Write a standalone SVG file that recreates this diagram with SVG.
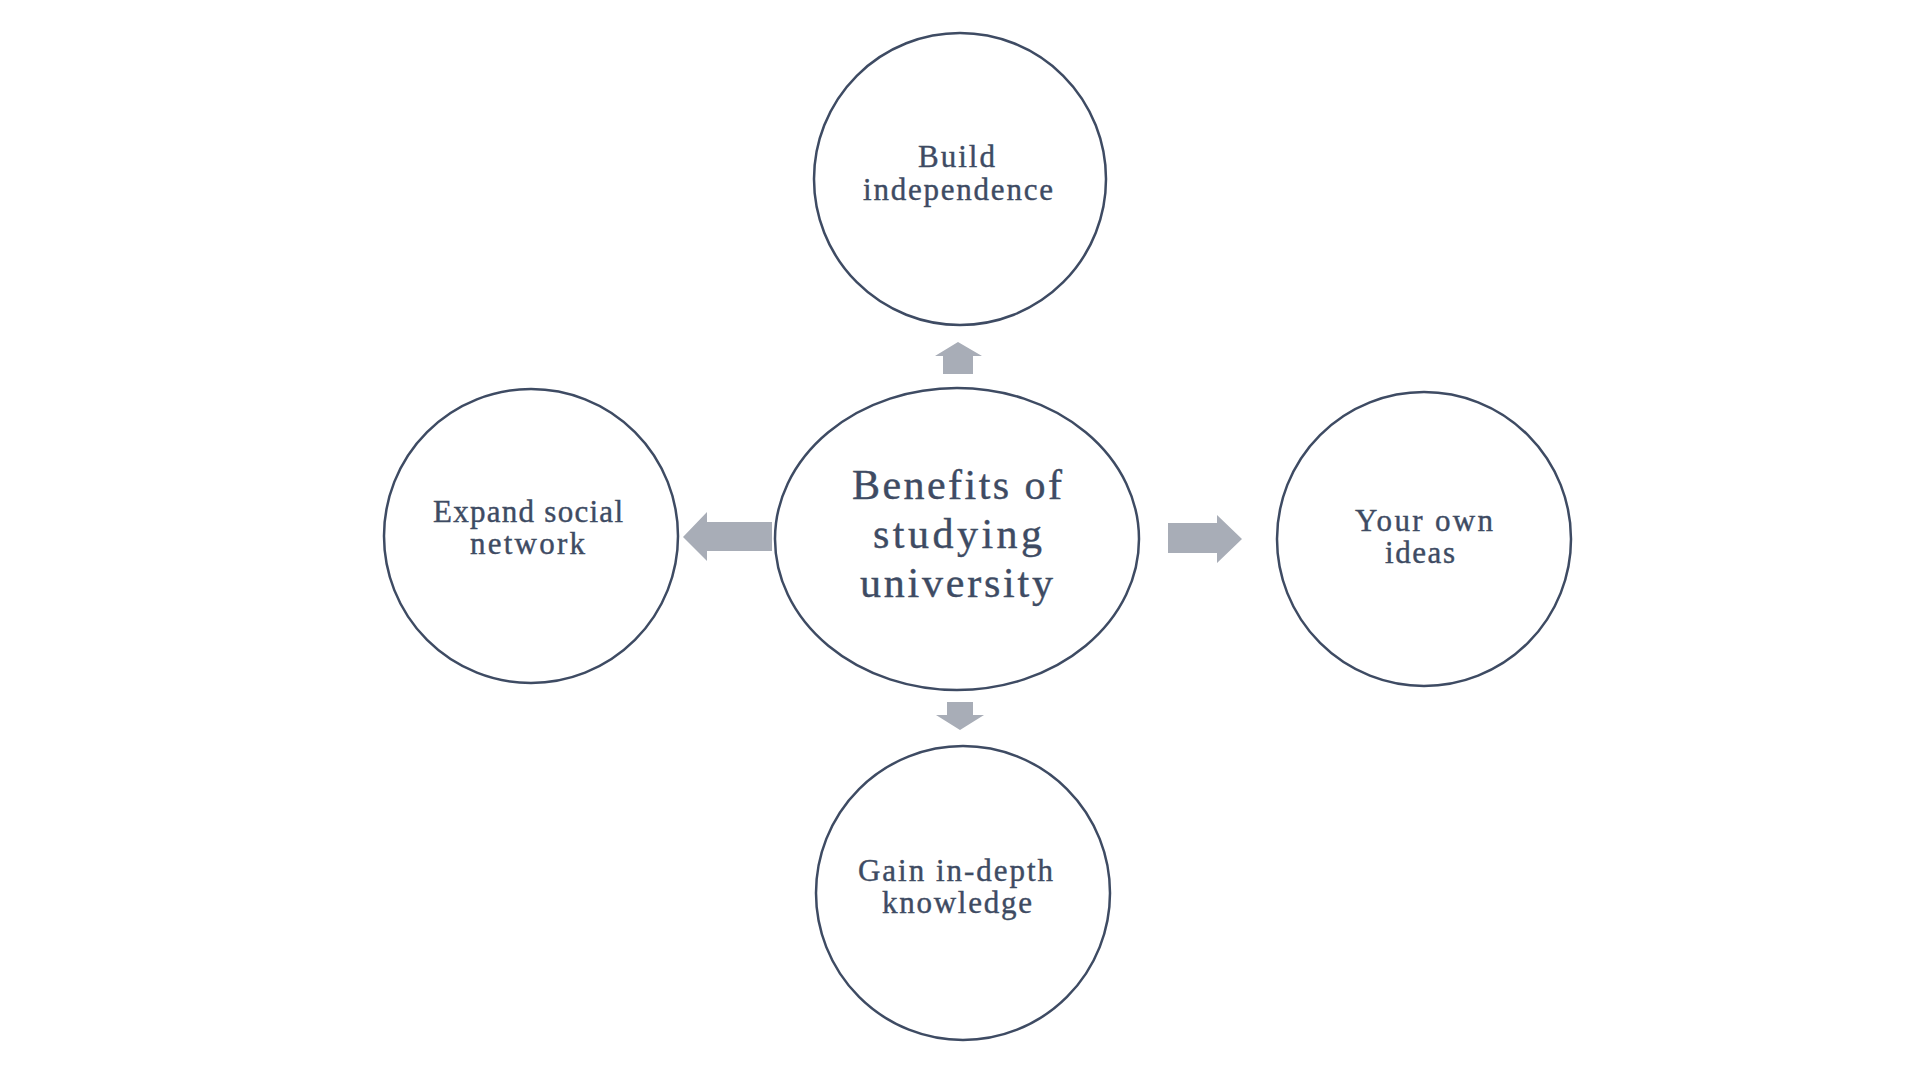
<svg xmlns="http://www.w3.org/2000/svg" width="1920" height="1080" viewBox="0 0 1920 1080">
  <style>
    .node { fill: #FFFFFF; stroke: #3E4B63; stroke-width: 2.5; }
    .arrow { fill: #A8ADB7; stroke: none; }
    .lbl { font-family: "Liberation Serif", "Times New Roman", serif; fill: #3E4B63; stroke: #3E4B63; stroke-width: 0.4; text-anchor: middle; }
    .sm { font-size: 31px; }
    .lg { font-size: 42px; }
  </style>
  <rect width="1920" height="1080" fill="#FFFFFF"/>
  <g id="connectors">
    <polygon class="arrow" points="958,342 982,356 973,356 973,374 943,374 943,356 935,356"/>
    <polygon class="arrow" points="947,702 973,702 973,715 984,715 960,730 936,715 947,715"/>
    <polygon class="arrow" points="1168,523 1217,523 1217,515 1242,539 1217,563 1217,553 1168,553"/>
    <polygon class="arrow" points="772,522 707,522 707,512 683,537 707,561 707,551 772,551"/>
  </g>
  <g id="node-center">
    <ellipse class="node" cx="957" cy="539" rx="182" ry="151"/>
    <text class="lbl lg" x="957" y="499" textLength="210" lengthAdjust="spacing">Benefits of</text>
    <text class="lbl lg" x="957.5" y="548" textLength="169" lengthAdjust="spacing">studying</text>
    <text class="lbl lg" x="956.5" y="597" textLength="193" lengthAdjust="spacing">university</text>
  </g>
  <g id="node-top">
    <circle class="node" cx="960" cy="179" r="146"/>
    <text class="lbl sm" x="956.5" y="167" textLength="77" lengthAdjust="spacing">Build</text>
    <text class="lbl sm" x="958" y="200" textLength="190" lengthAdjust="spacing">independence</text>
  </g>
  <g id="node-left">
    <circle class="node" cx="531" cy="536" r="147"/>
    <text class="lbl sm" x="528" y="522" textLength="190" lengthAdjust="spacing">Expand social</text>
    <text class="lbl sm" x="527.5" y="554" textLength="115" lengthAdjust="spacing">network</text>
  </g>
  <g id="node-right">
    <circle class="node" cx="1424" cy="539" r="147"/>
    <text class="lbl sm" x="1424" y="531" textLength="138" lengthAdjust="spacing">Your own</text>
    <text class="lbl sm" x="1420" y="563" textLength="70" lengthAdjust="spacing">ideas</text>
  </g>
  <g id="node-bottom">
    <circle class="node" cx="963" cy="893" r="147"/>
    <text class="lbl sm" x="955.5" y="881" textLength="195" lengthAdjust="spacing">Gain in-depth</text>
    <text class="lbl sm" x="957" y="913" textLength="150" lengthAdjust="spacing">knowledge</text>
  </g>
</svg>
